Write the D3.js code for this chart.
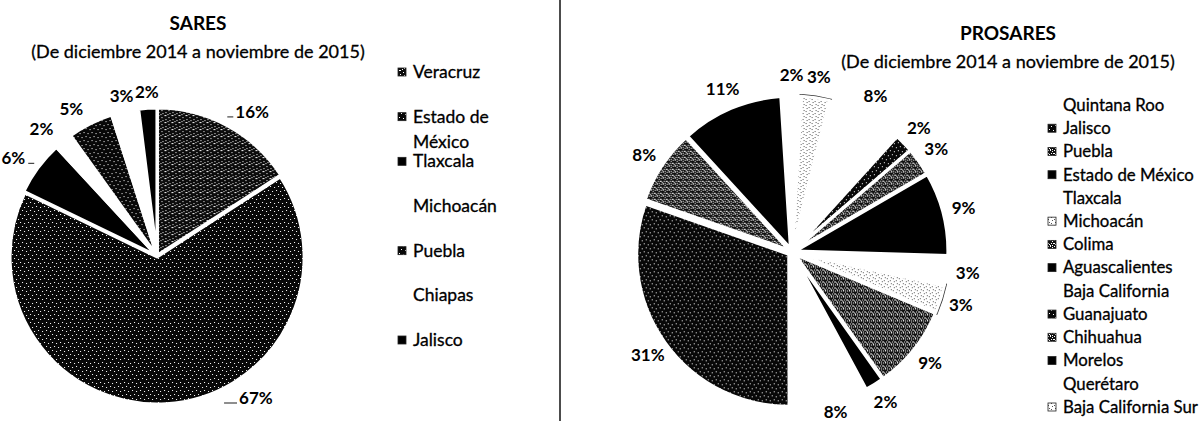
<!DOCTYPE html>
<html>
<head>
<meta charset="utf-8">
<script src="https://cdn.jsdelivr.net/npm/d3@7"></script>
<style>
  html, body { margin: 0; padding: 0; background: #fff; }
  svg { display: block; font-family: Lato, "Open Sans", sans-serif; }
  .txt { stroke: #000; stroke-width: 0.3px; }
</style>
</head>
<body>
<div id="chart"></div>
<script>
// SARES (left pie)
const saresStates = ["Veracruz", "Estado de México", "Tlaxcala", "Michoacán", "Puebla", "Chiapas", "Jalisco"];
const saresShares = [16, 67, 6, 2, 5, 3, 2];

// PROSARES (right pie)
const prosaresStates = ["Quintana Roo", "Jalisco", "Puebla", "Estado de México", "Tlaxcala", "Michoacán", "Colima",
  "Aguascalientes", "Baja California", "Guanajuato", "Chihuahua", "Morelos", "Querétaro", "Baja California Sur"];
const prosaresShares = [8, 2, 3, 9, 3, 3, 9, 2, 8, 31, 8, 11, 2, 3];

const titles = ["SARES", "PROSARES"];
const subtitle = "(De diciembre 2014 a noviembre de 2015)";

// fill keys per slice (style only)
const saresFill = ["cross", "dark", "black", "white", "dark", "white", "black"];
const prosaresFill = ["white", "dark", "mesh", "black", "white", "light", "mesh", "black", "white", "dark", "mesh", "black", "white", "light"];

const W = 1204, H = 421;
const svg = d3.select("#chart").append("svg")
  .attr("width", W)
  .attr("height", H);

// --- scanned-looking fill patterns
const defs = svg.append("defs");
function pattern(id, size, bg, fg, specks) {
  const p = defs.append("pattern")
    .attr("id", id)
    .attr("patternUnits", "userSpaceOnUse")
    .attr("width", size)
    .attr("height", size);
  p.append("rect").attr("width", size).attr("height", size).attr("fill", bg);
  specks.forEach(s => {
    p.append("rect").attr("x", s[0]).attr("y", s[1]).attr("width", s[2]).attr("height", s[3])
      .attr("fill", fg).attr("shape-rendering", "crispEdges");
  });
}
pattern("dark", 8, "#080808", "#fff", [[1, 1, 1, 1], [5, 2, 1, 1], [3, 6, 1, 1], [7, 5, 1, 1]]);
pattern("cross", 7, "#0c0c0c", "#fff", [[0, 0, 2, 1], [4, 2, 1, 1], [1, 4, 1, 1], [5, 5, 1, 1], [3, 6, 1, 1]]);
pattern("light", 6, "#fff", "#555", [[1, 1, 1, 1], [4, 3, 1, 1], [2, 4, 1, 1], [5, 0, 1, 1]]);
pattern("mesh", 6, "#111", "#fff", [[0, 0, 1, 1], [2, 1, 1, 1], [4, 0, 1, 1], [1, 3, 1, 1], [3, 3, 2, 1], [5, 4, 1, 1], [2, 5, 1, 1], [0, 5, 1, 1]]);

const fillOf = k => k === "black" ? "#000" : k === "white" ? "#fff" : `url(#${k})`;

// --- divider
svg.append("line")
  .attr("x1", 560).attr("x2", 560)
  .attr("y1", 0).attr("y2", H)
  .attr("stroke", "#111")
  .attr("stroke-width", 1.5);

// --- titles
function drawTitle(text, cx, y) {
  svg.append("text")
    .attr("x", cx).attr("y", y)
    .attr("text-anchor", "middle")
    .attr("font-size", 19)
    .attr("font-weight", "bold")
    .text(text);
  svg.append("text")
    .attr("class", "txt")
    .attr("x", cx).attr("y", y + 28)
    .attr("text-anchor", "middle")
    .attr("font-size", 18)
    .text(subtitle);
}
drawTitle(titles[0], 198, 30);
drawTitle(titles[1], 1008, 40);

// --- pie helper
function drawPie(opts) {
  const { shares, fills, cx, cy, r, start, explode, labelR, bottom, sideAnchor, leaders } = opts;
  const pie = d3.pie().sort(null).value(d => d)
    .startAngle(start)
    .endAngle(start + 2 * Math.PI);
  const arcs = pie(shares);
  const arc = d3.arc().innerRadius(0).outerRadius(r);
  const ring = d3.arc().innerRadius(22).outerRadius(r);
  const g = svg.append("g").attr("transform", `translate(${cx},${cy})`);
  const shift = d => {
    const a = (d.startAngle + d.endAngle) / 2;
    return `translate(${explode * Math.sin(a)},${-explode * Math.cos(a)})`;
  };

  // thin dark outline for the pale slices (kept away from the centre)
  g.selectAll("path.outline")
    .data(arcs.filter((d, i) => fills[i] === "light"))
    .enter()
    .append("path")
    .attr("class", "outline")
    .attr("d", ring)
    .attr("transform", shift)
    .attr("fill", "none")
    .attr("stroke", "#333")
    .attr("stroke-width", 4.5);

  g.selectAll("path.slice")
    .data(arcs)
    .enter()
    .append("path")
    .attr("class", "slice")
    .attr("d", arc)
    .attr("transform", shift)
    .attr("fill", (d, i) => fillOf(fills[i]))
    .attr("stroke", "#fff")
    .attr("stroke-width", 3)
    .attr("stroke-linejoin", "round");

  // labels on an outer ring; kept above the bottom of the plot area
  const maxY = bottom - cy;
  const labels = arcs.map(d => {
    let a = (d.startAngle + d.endAngle) / 2;
    let x = labelR * Math.sin(a), y = -labelR * Math.cos(a);
    if (y > maxY) {
      if (d.endAngle - d.startAngle > Math.PI / 2) {
        const b = Math.acos(-maxY / labelR);
        a = Math.sin(a) >= 0 ? b : 2 * Math.PI - b;
        x = labelR * Math.sin(a);
      }
      y = maxY;
    }
    const s = Math.sin(a);
    const anchor = !sideAnchor || Math.abs(s) < 0.3 ? "middle" : (s > 0 ? "start" : "end");
    return { x, y, v: d.value, anchor };
  });

  g.selectAll("text.pct")
    .data(labels)
    .enter()
    .append("text")
    .attr("class", "pct")
    .attr("x", d => d.x)
    .attr("y", d => d.y)
    .attr("dy", "0.35em")
    .attr("text-anchor", d => d.anchor)
    .attr("font-size", 17)
    .attr("font-weight", "bold")
    .text(d => `${Math.round(d.v)}%`);

  if (leaders) {
    g.selectAll("line.lead")
      .data(labels.filter(d => d.v >= 6 && d.anchor !== "middle"))
      .enter()
      .append("line")
      .attr("class", "lead")
      .attr("x1", d => d.anchor === "start" ? d.x - (d.v > 50 ? 15 : 8) : d.x + 3)
      .attr("x2", d => d.anchor === "start" ? d.x - 2 : d.x + 9)
      .attr("y1", d => d.y + 5)
      .attr("y2", d => d.y + 5)
      .attr("stroke", "#444")
      .attr("stroke-width", 1.2);
  }
}

drawPie({
  shares: saresShares, fills: saresFill,
  cx: 157, cy: 256, r: 147, start: 0, explode: 1,
  labelR: 164, bottom: 398, sideAnchor: true, leaders: true
});
drawPie({
  shares: prosaresShares, fills: prosaresFill,
  cx: 792, cy: 252, r: 152, start: 14 * Math.PI / 180, explode: 4,
  labelR: 177, bottom: 412, sideAnchor: false, leaders: false
});

// --- legends
function drawLegend(states, fills, x, y0, y1, wrapW, size) {
  const yScale = d3.scalePoint().domain(states).range([y0, y1]);
  const g = svg.append("g");
  states.forEach((s, i) => {
    const y = yScale(s);
    if (fills[i] !== "white") {
      g.append("rect")
        .attr("x", x).attr("y", y - 4)
        .attr("width", 8).attr("height", 8)
        .attr("fill", fillOf(fills[i]))
        .attr("stroke", "#222")
        .attr("stroke-width", 0.8);
    }
    const t = g.append("text")
      .attr("class", "txt")
      .attr("x", x + 15).attr("y", y)
      .attr("dy", "0.35em")
      .attr("font-size", size)
      .text(s);
    // simple word wrap
    if (wrapW && t.node().getComputedTextLength() > wrapW) {
      const words = s.split(" ");
      t.text(null);
      let line = [];
      let ts = t.append("tspan").attr("x", x + 15);
      words.forEach(w => {
        line.push(w);
        ts.text(line.join(" "));
        if (ts.node().getComputedTextLength() > wrapW && line.length > 1) {
          line.pop();
          ts.text(line.join(" "));
          line = [w];
          ts = t.append("tspan").attr("x", x + 15).attr("dy", "25").text(w);
        }
      });
    }
  });
}
drawLegend(saresStates, saresFill, 398, 72, 340, 100, 17.5);
drawLegend(prosaresStates, prosaresFill, 1048, 105, 407, 0, 16.8);
</script>
</body>
</html>
